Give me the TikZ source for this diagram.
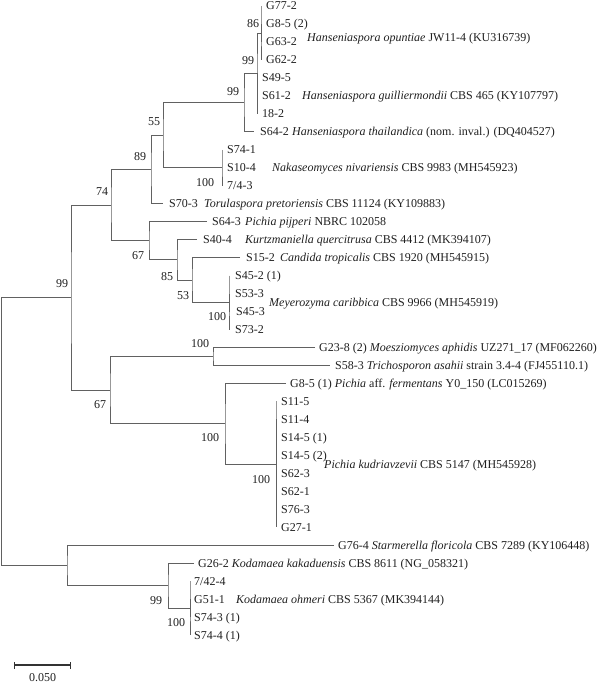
\documentclass[tikz,border=0pt]{standalone}
\usepackage{fontspec}
\setmainfont{Liberation Serif}
\begin{document}
\begin{tikzpicture}[x=1pt,y=-1pt,
  br/.style={draw=black!62, line width=0.9pt},
  lab/.style={anchor=base west, inner sep=0pt, text=black!88, font=\fontsize{12}{14}\selectfont},
  bs/.style={anchor=center, inner sep=0pt, text=black!88, font=\fontsize{12}{14}\selectfont}]
\useasboundingbox (0,0) rectangle (600,684);

% ---- tip ends and labels
\coordinate (e0) at (261,6.0);   \node[lab] (l0) at (266,10.0) {G77-2};
\coordinate (e1) at (261,24.0);  \node[lab] (l1) at (266,28.0) {G8-5 (2)};
\coordinate (e2) at (261,41.9);  \node[lab] (l2) at (266,45.9) {G63-2};
\coordinate (e3) at (261,59.9);  \node[lab] (l3) at (266,63.9) {G62-2};
\coordinate (e4) at (257,77.9);  \node[lab] (l4) at (262,81.9) {S49-5};
\coordinate (e5) at (257,95.9);  \node[lab] (l5) at (262,99.9) {S61-2};
\coordinate (e6) at (257,113.8); \node[lab] (l6) at (262,117.8) {18-2};
\coordinate (e7) at (254,131.8); \node[lab] (l7) at (260,135.8) {S64-2};
\coordinate (e8) at (222,149.8); \node[lab] (l8) at (227,153.8) {S74-1};
\coordinate (e9) at (222,167.7); \node[lab] (l9) at (227,171.7) {S10-4};
\coordinate (e10) at (222,185.7); \node[lab] (l10) at (227,189.7) {7/4-3};
\coordinate (e11) at (163,203.7); \node[lab] (l11) at (169,207.7) {S70-3};
\coordinate (e12) at (207,221.6); \node[lab] (l12) at (212,225.6) {S64-3};
\coordinate (e13) at (197,239.6); \node[lab] (l13) at (203,243.6) {S40-4};
\coordinate (e14) at (240,257.6); \node[lab] (l14) at (246,261.6) {S15-2};
\coordinate (e15) at (229,275.6); \node[lab] (l15) at (235,279.6) {S45-2 (1)};
\coordinate (e16) at (229,293.5); \node[lab] (l16) at (235,297.5) {S53-3};
\coordinate (e17) at (229,311.5); \node[lab] (l17) at (236,315.5) {S45-3};
\coordinate (e18) at (229,329.5); \node[lab] (l18) at (235,333.5) {S73-2};
\coordinate (e19) at (315,347.4); \node[lab] (l19) at (319,351.4) {G23-8 (2) \textit{Moesziomyces aphidis} UZ271\_17 (MF062260)};
\coordinate (e20) at (330,365.4); \node[lab] (l20) at (335,369.4) {S58-3 \textit{Trichosporon asahii} strain 3.4-4 (FJ455110.1)};
\coordinate (e21) at (286,383.4); \node[lab] (l21) at (290,387.4) {G8-5 (1) \textit{Pichia} aff. \textit{fermentans} Y0\_150 (LC015269)};
\coordinate (e22) at (276,401.3); \node[lab] (l22) at (281,405.3) {S11-5};
\coordinate (e23) at (276,419.3); \node[lab] (l23) at (281,423.3) {S11-4};
\coordinate (e24) at (276,437.3); \node[lab] (l24) at (281,441.3) {S14-5 (1)};
\coordinate (e25) at (276,455.3); \node[lab] (l25) at (281,459.3) {S14-5 (2)};
\coordinate (e26) at (276,473.2); \node[lab] (l26) at (281,477.2) {S62-3};
\coordinate (e27) at (276,491.2); \node[lab] (l27) at (281,495.2) {S62-1};
\coordinate (e28) at (276,509.2); \node[lab] (l28) at (281,513.2) {S76-3};
\coordinate (e29) at (276,527.1); \node[lab] (l29) at (281,531.1) {G27-1};
\coordinate (e30) at (334,545.1); \node[lab] (l30) at (338,549.1) {G76-4 \textit{Starmerella floricola} CBS 7289 (KY106448)};
\coordinate (e31) at (194,563.1); \node[lab] (l31) at (198,567.1) {G26-2 \textit{Kodamaea kakaduensis} CBS 8611 (NG\_058321)};
\coordinate (e32) at (190,581.1); \node[lab] (l32) at (194,585.1) {7/42-4};
\coordinate (e33) at (190,599.0); \node[lab] (l33) at (194,603.0) {G51-1};
\coordinate (e34) at (190,617.0); \node[lab] (l34) at (194,621.0) {S74-3 (1)};
\coordinate (e35) at (190,635.0); \node[lab] (l35) at (194,639.0) {S74-4 (1)};

% ---- species labels
\node[lab] (sA) at (307,42.0) {\textit{Hanseniaspora opuntiae} JW11-4 (KU316739)};
\node[lab] (sB) at (302,99.9) {\textit{Hanseniaspora guilliermondii} CBS 465 (KY107797)};
\node[lab] (sC) at (292,135.8) {\textit{Hanseniaspora thailandica} (nom. inval.) (DQ404527)};
\node[lab] (sD) at (272,171.7) {\textit{Nakaseomyces nivariensis} CBS 9983 (MH545923)};
\node[lab] (sE) at (204,207.7) {\textit{Torulaspora pretoriensis} CBS 11124 (KY109883)};
\node[lab] (sF) at (245,225.6) {\textit{Pichia pijperi} NBRC 102058};
\node[lab] (sG) at (245,243.6) {\textit{Kurtzmaniella quercitrusa} CBS 4412 (MK394107)};
\node[lab] (sH) at (280,261.6) {\textit{Candida tropicalis} CBS 1920 (MH545915)};
\node[lab] (sI) at (269,306.5) {\textit{Meyerozyma caribbica} CBS 9966 (MH545919)};
\node[lab] (sJ) at (324,468.0) {\textit{Pichia kudriavzevii} CBS 5147 (MH545928)};
\node[lab] (sK) at (236,603.0) {\textit{Kodamaea ohmeri} CBS 5367 (MK394144)};

% ---- internal nodes
\coordinate (K) at (261,33.0);
\coordinate (L) at (257,73.4);
\coordinate (M) at (244,102.6);
\coordinate (N) at (222,167.7);
\coordinate (E) at (163,135.2);
\coordinate (C) at (151,169.4);
\coordinate (J) at (229,302.5);
\coordinate (I) at (192,280.1);
\coordinate (H) at (177,259.9);
\coordinate (D) at (149,240.8);
\coordinate (B) at (111,205.1);
\coordinate (G) at (213,356.4);
\coordinate (Q) at (276,464.2);
\coordinate (P) at (225,423.8);
\coordinate (F) at (110,390.1);
\coordinate (A) at (71,297.6);
\coordinate (T) at (190,608.0);
\coordinate (R) at (168,585.6);
\coordinate (S) at (67,565.4);
\coordinate (root) at (1.5,431.5);

% ---- branches
\draw[br] (e0) -| (K) |- (e3); \draw[br] (K) |- (e1); \draw[br] (K) |- (e2);
\draw[br] (K) -| (L) |- (e6); \draw[br] (L) |- (e4); \draw[br] (L) |- (e5);
\draw[br] (L) -| (M) |- (e7);
\draw[br] (e8) -| (N) |- (e10); \draw[br] (N) |- (e9);
\draw[br] (M) -| (E) |- (N);
\draw[br] (E) -| (C) |- (e11);
\draw[br] (e15) -| (J) |- (e18); \draw[br] (J) |- (e16); \draw[br] (J) |- (e17);
\draw[br] (e14) -| (I) |- (J);
\draw[br] (e13) -| (H) |- (I);
\draw[br] (e12) -| (D) |- (H);
\draw[br] (C) -| (B) |- (D);
\draw[br] (e19) -| (G) |- (e20);
\draw[br] (e22) -| (Q) |- (e29);
\foreach \k in {23,...,28} {\draw[br] (Q) |- (e\k);}
\draw[br] (e21) -| (P) |- (Q);
\draw[br] (G) -| (F) |- (P);
\draw[br] (B) -| (A) |- (F);
\draw[br] (e32) -| (T) |- (e35); \draw[br] (T) |- (e33); \draw[br] (T) |- (e34);
\draw[br] (e31) -| (R) |- (T);
\draw[br] (e30) -| (S) |- (R);
\draw[br] (A) -| (root) |- (S);

% ---- bootstrap values
\node[bs] (bK) at (253,24) {86};
\node[bs] (bL) at (248,61) {99};
\node[bs] (bM) at (233,92) {99};
\node[bs] (bE) at (154,122) {55};
\node[bs] (bN) at (205,183) {100};
\node[bs] (bC) at (140,157) {89};
\node[bs] (bB) at (102,192) {74};
\node[bs] (bA) at (62,284) {99};
\node[bs] (bD) at (138,256) {67};
\node[bs] (bH) at (167,277) {85};
\node[bs] (bI) at (183,296) {53};
\node[bs] (bJ) at (217,317) {100};
\node[bs] (bG) at (200,344) {100};
\node[bs] (bF) at (100,405) {67};
\node[bs] (bP) at (210,438) {100};
\node[bs] (bQ) at (261,480) {100};
\node[bs] (bR) at (156,601) {99};
\node[bs] (bT) at (176,623) {100};

% ---- scale bar
\coordinate (sb1) at (14.5,665);
\coordinate (sb2) at (70.5,665);
\draw[draw=black!80, line width=1.3pt] (sb1) -- (sb2);
\draw[draw=black!80, line width=1.1pt] ([yshift=-3.5pt]sb1) -- ([yshift=3.5pt]sb1);
\draw[draw=black!80, line width=1.1pt] ([yshift=-3.5pt]sb2) -- ([yshift=3.5pt]sb2);
\node[bs] (sbl) at (42.5,678) {0.050};
\end{tikzpicture}
\end{document}
